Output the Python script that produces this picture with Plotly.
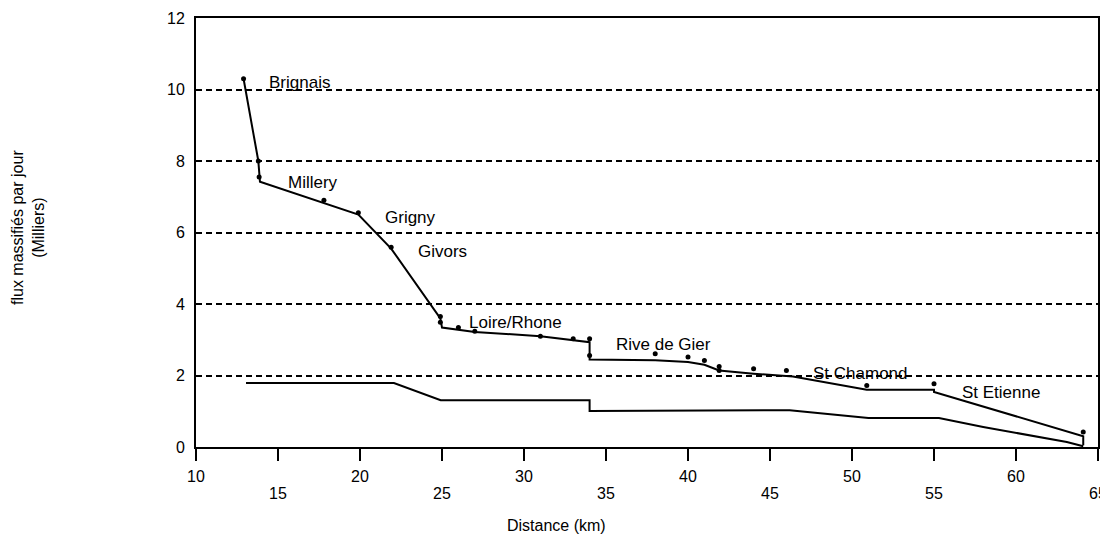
import plotly.graph_objects as go

# Upper curve (total flows) - polyline vertices
dist_upper = [12.9, 13.8, 13.9, 19.9, 21.9, 24.9, 25.0, 26.0, 27.0, 31.0, 33.0, 34.0, 34.0,
              38.0, 40.0, 41.0, 41.9, 44.0, 46.4, 50.9, 55.0, 55.0, 64.1, 64.1]
flux_upper = [10.3, 8.0, 7.42, 6.5, 5.55, 3.6, 3.34, 3.28, 3.22, 3.1, 3.0, 2.93, 2.45,
              2.43, 2.38, 2.3, 2.14, 2.05, 1.97, 1.6, 1.6, 1.54, 0.3, 0.05]

# Station dots on the upper curve
dist_dots = [12.9, 13.8, 13.85, 17.8, 19.9, 21.9, 24.9, 24.9, 26.0, 27.0, 31.0, 33.0, 34.0,
             34.0, 38.0, 40.0, 41.0, 41.9, 41.9, 44.0, 46.0, 50.9, 55.0, 64.1]
flux_dots = [10.3, 8.0, 7.55, 6.9, 6.55, 5.59, 3.65, 3.49, 3.34, 3.24, 3.1, 3.03, 3.03,
             2.56, 2.61, 2.52, 2.42, 2.25, 2.14, 2.19, 2.14, 1.72, 1.77, 0.42]

# Lower curve
dist_lower = [13.05, 22.07, 24.92, 34.0, 34.0, 46.2, 51.0, 55.3, 58.0, 60.2, 63.1, 64.1]
flux_lower = [1.79, 1.79, 1.31, 1.31, 1.01, 1.03, 0.81, 0.81, 0.56, 0.37, 0.14, 0.02]

# Place labels
place_names = ["Brignais", "Millery", "Grigny", "Givors", "Loire/Rhone",
               "Rive de Gier", "St Chamond", "St Etienne"]
place_x = [14.3, 15.5, 21.4, 23.4, 26.5, 35.5, 47.5, 56.6]
place_y = [10.2, 7.4, 6.43, 5.47, 3.47, 2.86, 2.07, 1.52]

# Axis ticks
x_ticks_upper_row = [10, 20, 30, 40, 50, 60]
x_ticks_lower_row = [15, 25, 35, 45, 55, 65]
y_ticks = [0, 2, 4, 6, 8, 10, 12]

FONT = "Liberation Sans, Arial, sans-serif"

fig = go.Figure()
fig.add_trace(go.Scatter(x=dist_upper, y=flux_upper, mode="lines",
                         line=dict(color="black", width=2), hoverinfo="skip",
                         showlegend=False))
fig.add_trace(go.Scatter(x=dist_dots, y=flux_dots, mode="markers",
                         marker=dict(color="black", size=5), hoverinfo="skip",
                         showlegend=False))
fig.add_trace(go.Scatter(x=dist_lower, y=flux_lower, mode="lines",
                         line=dict(color="black", width=2), hoverinfo="skip",
                         showlegend=False))
# invisible trace to anchor the second x axis (lower row of tick labels)
fig.add_trace(go.Scatter(x=[x_ticks_lower_row[0]], y=[0], xaxis="x2", mode="markers",
                         marker=dict(opacity=0), hoverinfo="skip", showlegend=False))

for name, px, py in zip(place_names, place_x, place_y):
    fig.add_annotation(x=px, y=py, text=name, showarrow=False, xanchor="left",
                       yanchor="middle", font=dict(family=FONT, size=17, color="black"))

# figure is placed 8px from the page's top-left (default body margin)
W, H = 1100, 527
ML, MR, MT, MB = 188, 10, 10, 88
PW, PH = W - ML - MR, H - MT - MB

fig.add_annotation(xref="paper", yref="paper", x=(20 - ML) / PW,
                   y=(PH - (220 - MT)) / PH,
                   text="flux massifiés par jour<br>(Milliers)", textangle=-90,
                   showarrow=False, xanchor="center", yanchor="middle",
                   font=dict(family=FONT, size=16, color="black"))
fig.add_annotation(xref="paper", yref="paper", x=(548 - ML) / PW, y=(PH - (517 - MT)) / PH,
                   text="Distance (km)", showarrow=False, xanchor="center",
                   yanchor="middle", font=dict(family=FONT, size=16, color="black"))

all_x = sorted(x_ticks_upper_row + x_ticks_lower_row)
fig.update_layout(
    width=W, height=H,
    margin=dict(l=ML, r=MR, t=MT, b=MB),
    paper_bgcolor="white", plot_bgcolor="white",
    font=dict(family=FONT, size=16, color="black"),
    xaxis=dict(range=[10, 65], tickvals=all_x, automargin=False,
               ticktext=[str(v) if v in x_ticks_upper_row else "" for v in all_x],
               ticks="outside", ticklen=12, tickwidth=2, tickcolor="black",
               showline=True, linewidth=2, linecolor="black", mirror=True,
               showgrid=False, zeroline=False, ticklabelstandoff=2),
    xaxis2=dict(range=[10, 65], overlaying="x", side="bottom", anchor="y",
                tickvals=x_ticks_lower_row, ticks="", showline=False, automargin=False,
                showgrid=False, zeroline=False, ticklabelstandoff=35,
                ticklabeloverflow="allow"),
    yaxis=dict(range=[0, 12], tickvals=y_ticks, ticks="", showline=True,
               linewidth=2, linecolor="black", mirror=True, automargin=False,
               showgrid=True, gridcolor="black", gridwidth=1.5, griddash="6px,4px",
               zeroline=False, ticklabelstandoff=6),
)

fig.write_html("out.html")
